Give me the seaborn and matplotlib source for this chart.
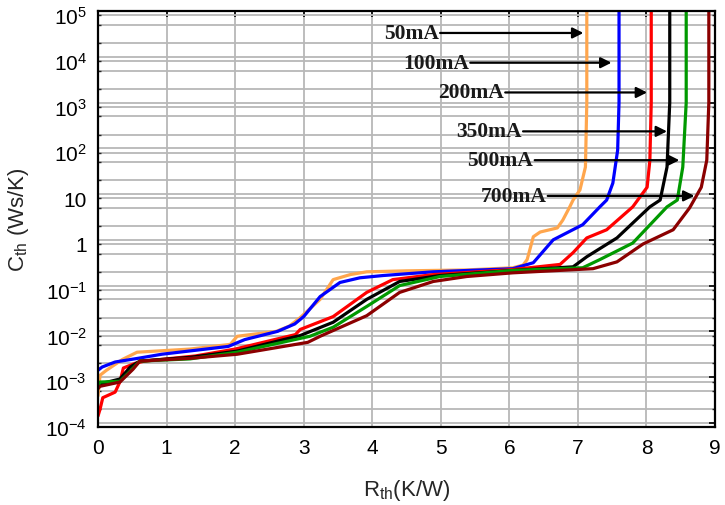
import numpy as np
import pandas as pd
import matplotlib
matplotlib.use("Agg")
import matplotlib.pyplot as plt
import matplotlib.transforms as mtransforms
from matplotlib.ticker import FixedLocator, FixedFormatter, NullFormatter
import seaborn as sns

# ---------------- data ----------------
currents = ["50mA", "100mA", "200mA", "350mA", "500mA", "700mA"]

rth_50 = [0.0, 0.03, 0.12, 0.36, 0.57, 1.34, 1.93, 2.03, 2.60, 2.79, 2.95, 3.24, 3.43, 3.68,
          3.92, 4.5, 5.38, 6.05, 6.20, 6.26, 6.35, 6.45, 6.70, 6.78, 6.88, 6.93, 7.03, 7.11, 7.13, 7.13]
cth_50 = [3.9e-4, 1.1e-3, 1.4e-3, 2.45e-3, 3.5e-3, 4.1e-3, 5.2e-3, 7.8e-3, 1.0e-2, 1.3e-2, 2.0e-2,
          5.0e-2, 0.135, 0.174, 0.20, 0.21, 0.22, 0.245, 0.28, 0.37, 1.17, 1.48, 1.82, 2.7, 5.2, 7.4,
          12.3, 39, 1000, 3e5]

rth_100 = [0.0, 0.06, 0.25, 0.58, 0.93, 1.90, 2.14, 2.62, 2.87, 3.0, 3.24, 3.53, 3.82, 4.16, 4.89,
           6.05, 6.35, 6.64, 7.07, 7.32, 7.42, 7.51, 7.58, 7.60, 7.60]
cth_100 = [1.41e-3, 1.66e-3, 2.14e-3, 2.57e-3, 3.16e-3, 4.68e-3, 6.6e-3, 1.0e-2, 1.45e-2, 2.1e-2,
           5.75e-2, 0.117, 0.148, 0.166, 0.20, 0.234, 0.316, 1.0, 2.14, 5.25, 7.4, 17.4, 91, 1000, 3e5]

rth_200 = [0.0, 0.03, 0.07, 0.25, 0.32, 0.37, 0.54, 0.68, 1.42, 2.0, 2.88, 2.95, 3.43, 3.92, 4.30,
           4.89, 6.05, 6.74, 6.93, 7.13, 7.42, 7.80, 8.01, 8.05, 8.07, 8.07]
cth_200 = [1.41e-4, 2.0e-4, 3.55e-4, 4.7e-4, 7.9e-4, 1.58e-3, 2.0e-3, 2.24e-3, 2.9e-3, 4.1e-3,
           8.5e-3, 1.1e-2, 2.1e-2, 7.1e-2, 0.135, 0.174, 0.224, 0.29, 0.525, 1.1, 1.66, 5.25, 14.1,
           55, 1000, 3e5]

rth_350 = [0.0, 0.03, 0.32, 0.47, 0.61, 1.34, 2.03, 2.95, 3.43, 3.92, 4.40, 4.99, 6.05, 6.93, 7.13,
           7.57, 8.05, 8.20, 8.30, 8.34, 8.34]
cth_350 = [6.3e-4, 7.1e-4, 9.1e-4, 1.66e-3, 2.24e-3, 2.7e-3, 3.7e-3, 8.1e-3, 1.58e-2, 5.0e-2, 0.123,
           0.166, 0.214, 0.257, 0.427, 1.1, 5.25, 7.4, 38.9, 1000, 3e5]

rth_500 = [0.0, 0.03, 0.32, 0.47, 0.61, 1.34, 2.03, 3.09, 3.43, 3.92, 4.40, 4.99, 6.05, 7.07, 7.32,
           7.80, 8.30, 8.45, 8.53, 8.58, 8.58]
cth_500 = [6.3e-4, 7.8e-4, 8.1e-4, 1.35e-3, 2.24e-3, 2.5e-3, 3.5e-3, 7.8e-3, 1.23e-2, 3.5e-2, 0.1,
           0.158, 0.214, 0.245, 0.37, 0.85, 5.25, 7.4, 38.9, 1000, 3e5]

rth_700 = [0.0, 0.03, 0.32, 0.51, 0.61, 1.34, 2.03, 3.06, 3.24, 3.92, 4.40, 4.89, 5.38, 6.05, 7.22,
           7.57, 7.95, 8.39, 8.63, 8.80, 8.88, 8.91, 8.91]
cth_700 = [5.6e-4, 6.3e-4, 7.8e-4, 1.48e-3, 2.24e-3, 2.57e-3, 3.16e-3, 5.75e-3, 7.8e-3, 2.2e-2,
           7.1e-2, 0.123, 0.158, 0.19, 0.234, 0.33, 0.81, 1.66, 5.0, 14.1, 55, 1000, 3e5]

x_ticks = [0, 1, 2, 3, 4, 5, 6, 7, 8, 9]
y_tick_values = [1e-4, 1e-3, 1e-2, 1e-1, 1, 10, 1e2, 1e3, 1e4, 1e5]
y_tick_labels = ['10$^{-4}$', '10$^{-3}$', '10$^{-2}$', '10$^{-1}$', '1', '10',
                 '10$^{2}$', '10$^{3}$', '10$^{4}$', '10$^{5}$']
y_minor_subs = [2, 5, 8]

series_x = [rth_50, rth_100, rth_200, rth_350, rth_500, rth_700]
series_y = [cth_50, cth_100, cth_200, cth_350, cth_500, cth_700]

frames = []
for name, xs, ys in zip(currents, series_x, series_y):
    frames.append(pd.DataFrame({"Rth": xs, "Cth": ys, "current": name}))
df = pd.concat(frames, ignore_index=True)

colors = {"50mA": "#ffa64d", "100mA": "#0000ff", "200mA": "#ff0000",
          "350mA": "#000000", "500mA": "#009900", "700mA": "#8b0000"}

# annotation placement (arrow start x, arrow end x, y level)
ann_start = [4.99, 5.43, 5.94, 6.20, 6.37, 6.56]
ann_end = [7.08, 7.49, 8.01, 8.30, 8.48, 8.70]
ann_y = [10**4.52, 10**3.87, 10**3.22, 10**2.37, 10**1.74, 10**0.96]

# ---------------- style ----------------
sns.set_style("white")
plt.rcParams['font.family'] = ['Liberation Sans', 'DejaVu Sans']
plt.rcParams['mathtext.fontset'] = 'custom'
plt.rcParams['mathtext.rm'] = 'Liberation Sans'
plt.rcParams['mathtext.it'] = 'Liberation Sans:italic'
plt.rcParams['mathtext.bf'] = 'Liberation Sans:bold'

fig = plt.figure(figsize=(7.25, 5.06), dpi=100)
ax = fig.add_axes([98/725, 78/506, 617/725, 416/506])

ax.set_yscale("log")
ax.set_xlim(0, 9)
ax.set_ylim(10**-4.09, 10**5.0)

sns.lineplot(data=df, x="Rth", y="Cth", hue="current", palette=colors, sort=False,
             estimator=None, units="current", linewidth=2.3, legend=False, ax=ax)

# ticks & grid
ax.xaxis.set_major_locator(FixedLocator(x_ticks))
ax.set_xticklabels([str(t) for t in x_ticks])
ax.yaxis.set_major_locator(FixedLocator(y_tick_values))
ax.yaxis.set_major_formatter(FixedFormatter(y_tick_labels))
minor_vals = [s * d for d in y_tick_values[:-1] for s in y_minor_subs]
ax.yaxis.set_minor_locator(FixedLocator(minor_vals))
ax.yaxis.set_minor_formatter(NullFormatter())

ax.grid(True, which='major', color='#b8b8b8', linewidth=1.3)
ax.grid(True, which='minor', axis='y', color='#b8b8b8', linewidth=1.3)
ax.set_axisbelow(True)

ax.tick_params(axis='both', which='major', direction='in', length=4, width=1.2,
               labelsize=15, top=True, right=True, colors='black', pad=8)
ax.tick_params(axis='y', which='minor', direction='in', length=2.5, width=1.0,
               left=True, right=True)
for s in ax.spines.values():
    s.set_color('black')
    s.set_linewidth(1.6)

# shift y tick labels slightly downward as in the reference
shift = mtransforms.ScaledTranslation(0, -4/100, fig.dpi_scale_trans)
for lbl in ax.get_yticklabels():
    lbl.set_transform(lbl.get_transform() + shift)

ax.set_xlabel(r'R$_{\mathrm{th}}$(K/W)', fontsize=16, labelpad=14)
ax.set_ylabel(r'C$_{\mathrm{th}}$ (Ws/K)', fontsize=16, labelpad=10)

# annotations
for lab, xs0, xe, yv in zip(currents, ann_start, ann_end, ann_y):
    ax.annotate('', xy=(xe, yv), xytext=(xs0, yv),
                arrowprops=dict(arrowstyle='-|>', color='black', lw=1.6,
                                mutation_scale=16, shrinkA=0, shrinkB=0))
    ax.text(xs0 - 0.02, yv, lab, ha='right', va='center', fontsize=15.5,
            family='Liberation Serif', fontweight='bold', color='#1a1a1a')

fig.savefig("out.png", dpi=100)
